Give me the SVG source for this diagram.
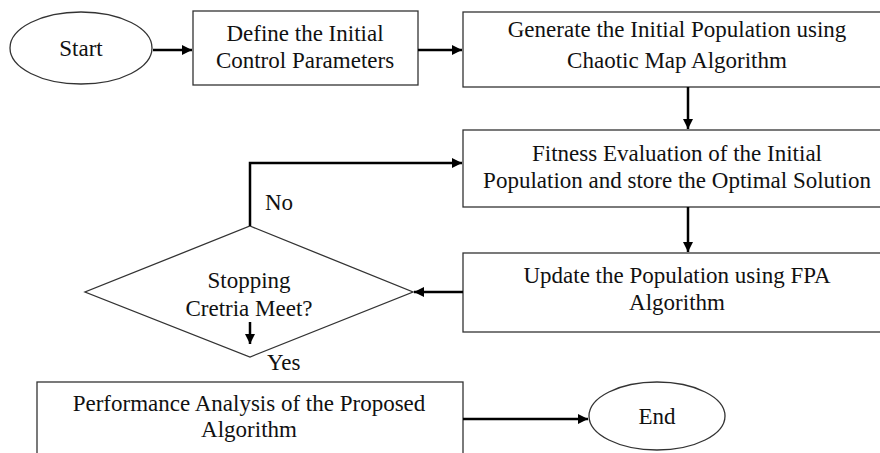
<svg xmlns="http://www.w3.org/2000/svg" width="880" height="453" viewBox="0 0 880 453">
<defs>
<style>
.node{fill:#fff;stroke:#333;stroke-width:1.3}
.c{fill:none;stroke:#000;stroke-width:2.5}
.t{font-family:'Liberation Serif','Times New Roman',serif;font-size:23px;fill:#111;text-anchor:middle}
.lbl{font-family:'Liberation Serif','Times New Roman',serif;font-size:23px;fill:#111}
</style>
<marker id="ah" viewBox="0 0 10 10" refX="10" refY="5" markerWidth="4" markerHeight="4" markerUnits="strokeWidth" orient="auto">
<path d="M0,0 L10,5 L0,10 z" fill="#000"/>
</marker>
</defs>
<rect width="880" height="453" fill="#fff"/>
<g id="start"><ellipse class="node" cx="81" cy="48" rx="71" ry="36"/><text class="t" x="81" y="56">Start</text></g>
<g id="define"><rect class="node" x="193" y="11" width="225" height="74"/><text class="t" x="305" y="41">Define the Initial</text><text class="t" x="305" y="68">Control Parameters</text></g>
<g id="generate"><rect class="node" x="463" y="12" width="430" height="75"/><text class="t" x="677" y="37">Generate the Initial Population using</text><text class="t" x="677" y="68">Chaotic Map Algorithm</text></g>
<g id="fitness"><rect class="node" x="463" y="130" width="430" height="77"/><text class="t" x="677" y="161">Fitness Evaluation of the Initial</text><text class="t" x="677" y="188">Population and store the Optimal Solution</text></g>
<g id="update"><rect class="node" x="463" y="253" width="430" height="79"/><text class="t" x="677" y="283">Update the Population using FPA</text><text class="t" x="677" y="310">Algorithm</text></g>
<g id="decision"><polygon class="node" points="250,226 413,292 250,357 85,292"/><text class="t" x="249" y="288">Stopping</text><text class="t" x="249" y="316">Cretria Meet?</text></g>
<g id="performance"><rect class="node" x="37" y="382" width="426" height="90"/><text class="t" x="249" y="411">Performance Analysis of the Proposed</text><text class="t" x="249" y="437">Algorithm</text></g>
<g id="end"><ellipse class="node" cx="657" cy="416" rx="68" ry="34"/><text class="t" x="657" y="424">End</text></g>
<g id="connectors">
<line class="c" x1="153" y1="50" x2="192" y2="50" marker-end="url(#ah)"/>
<line class="c" x1="418" y1="50" x2="462" y2="50" marker-end="url(#ah)"/>
<line class="c" x1="688" y1="87" x2="688" y2="129" marker-end="url(#ah)"/>
<line class="c" x1="688" y1="207" x2="688" y2="252" marker-end="url(#ah)"/>
<line class="c" x1="463" y1="292" x2="414" y2="292" marker-end="url(#ah)"/>
<polyline class="c" points="250,226 250,163 462,163" marker-end="url(#ah)"/>
<line class="c" x1="250" y1="322" x2="250" y2="344" marker-end="url(#ah)"/>
<line class="c" x1="463" y1="419" x2="588" y2="419" marker-end="url(#ah)"/>
<text class="lbl" x="265" y="210">No</text>
<text class="lbl" x="267" y="370">Yes</text>
</g>
</svg>
